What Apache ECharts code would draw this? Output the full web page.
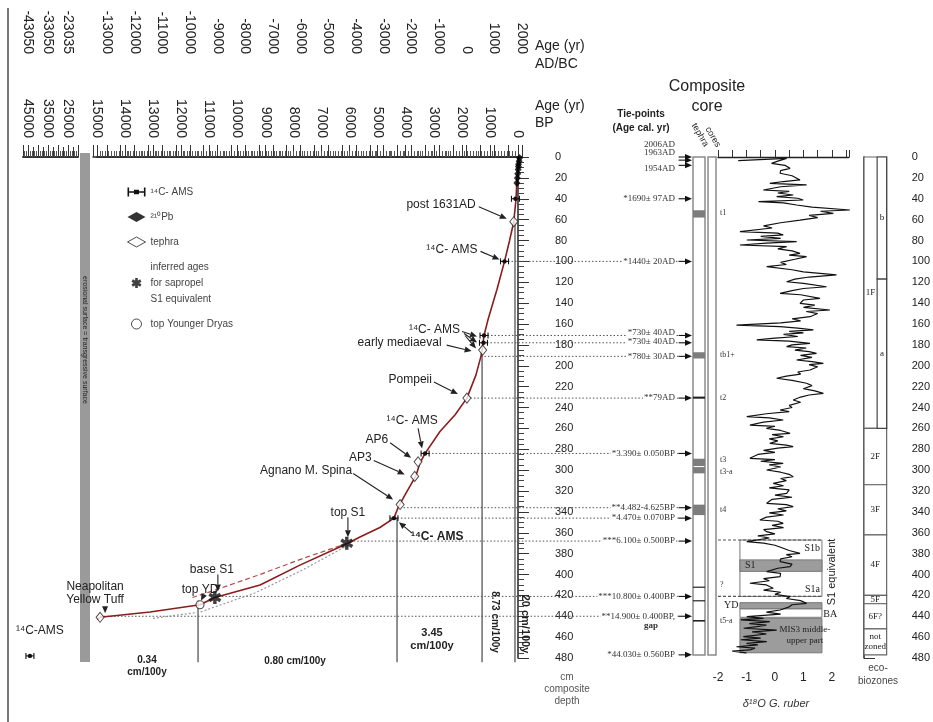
<!DOCTYPE html>
<html><head><meta charset="utf-8">
<script src="https://cdn.jsdelivr.net/npm/echarts@6/dist/echarts.min.js"></script>
<style>html,body{margin:0;padding:0;background:#fff}#c{width:933px;height:722px}</style>
</head><body><div id="c"></div>
<script>
// ================= DATA =================
// age-depth model (age cal yr BP, composite depth cm)
const curveAge   = [0, 10, 36, 70, 150, 300, 480, 750, 1070, 1210, 1280, 1320, 1500, 1820, 2240, 2780, 3310, 3490, 3630, 4030, 4275, 4420, 4920, 5630, 6060, 7770, 9190, 10800, 11330, 13110, 14890, 15000];
const curveDepth = [0, 10, 20, 40, 62, 80, 100, 127, 156, 171, 185, 191, 209, 231, 247, 263, 284, 293, 305, 324, 336, 346, 355, 364, 370, 391, 410, 422, 429, 436, 441, 443];
const altDashAge = [6060, 7600, 9300, 10800, 11600];
const altDashDepth = [370, 384, 401, 415, 422];
const altDotAge = [6060, 7700, 9400, 11330, 13000];
const altDotDepth = [372, 396, 418, 436, 442];
// dating points
const pbAge = [-56, -40, -20, -13, -4, 10, 25, 40];
const pbDepth = [1, 4, 7, 9, 12, 16, 20, 25];
const tephraAge = [150, 1260, 1820, 3560, 3680, 4200, 14890];
const tephraDepth = [62, 185, 231, 292, 306, 333, 441];
const c14Age = [90, 480, 1210, 1230, 3310, 4420];
const c14Depth = [40, 100, 171, 178, 284, 346];
const c14Err = [97, 20, 40, 40, 50, 70];
const c14DeepAge = [44030];
const c14DeepDepth = [478];
const c14DeepErr = [560];
const s1Age = [6100, 10800];
const s1Depth = [370, 422];
const ydAge = [11330];
const ydDepth = [429];
// sedimentation-rate boundaries (age, depth of start)
const rateAge = [107, 1280, 4310, 11400];
const rateDepth = [62, 190, 346, 425];
// annotations on the age-depth curve
const annText = ['post 1631AD', '¹⁴C- AMS', '¹⁴C- AMS', 'early mediaeval', 'Pompeii', '¹⁴C- AMS', 'AP6', 'AP3', 'Agnano M. Spina', 'top S1', '¹⁴C- AMS', 'base S1', 'top YD', 'Neapolitan\nYellow Tuff'];
const annAge = [150, 480, 1210, 1260, 1820, 3310, 3560, 3680, 4200, 6060, 4420, 10800, 11330, 14890];
const annDepth = [62, 100, 171, 185, 231, 284, 292, 306, 333, 370, 346, 422, 429, 441];
// tie-points
const tieText = ['2006AD', '1963AD', '1954AD', '*1690± 97AD', '*1440± 20AD', '*730± 40AD', '*730± 40AD', '*780± 30AD', '**79AD', '*3.390± 0.050BP', '**4.482-4.625BP', '*4.470± 0.070BP', '***6.100± 0.500BP', '***10.800± 0.400BP', '**14.900± 0.400BP,', '*44.030± 0.560BP'];
const tieDepth = [0, 3, 8, 40, 100, 171, 178, 191, 231, 284, 336, 346, 368, 421, 440, 477];
const tieLineFrom = [null, null, null, null, 480, 1210, 1230, 1320, 1820, 3310, 4200, 4420, 6100, 10800, 14890, null];
// tephra layers in composite core
const tephraBandTop = [51, 187, 229.5, 289, 297, 333, 411.5, 424.5, 443.5];
const tephraBandBot = [58, 193, 231.5, 296, 303, 343, 412.5, 425.5, 445];
const tephraName = ['t1', 'tb1+', 't2', 't3', 't3-a', 't4', '?', 't5-a'];
const tephraNameDepth = [54, 190, 231, 290, 302, 338, 410, 444];
// d18O G. ruber profile: [depth cm, d18O permil]
const d18Profile = [
[3.5,-1.29],[1.3,0.41],[4,0.1],[6.1,-0.12],[8,0.35],[10.9,0.53],[13,0.2],[15.6,0.18],[18,0.6],[22,0.88],[23.5,0.3],[25.2,-0.18],[26.8,1.11],[28.5,0.2],[31.6,-0.41],[33,0.5],[34.5,0.1],[36.4,0.64],[38,0.06],[39.5,0.8],[41.2,0.99],[42.8,-0.58],[44,0.3],[46,0.76],[48,1.3],[50.8,2.63],[52,1.6],[54,2.05],[56,1.2],[58,1.5],[60.4,0.88],[63,0.2],[66,-0.4],[68,-0.1],[71.5,-1.23],[73,0.1],[74.7,0.29],[76,-0.5],[78,0.2],[79.5,-0.99],[81,0.76],[82.5,-0.3],[84.3,-1.23],[85.9,0.41],[88,0.1],[90,0.6],[92.3,0.88],[94,0.5],[95.5,1.11],[98,0.7],[101,0.2],[103,0.4],[105.1,-0.29],[108,0.6],[110,1.0],[113,2.16],[115,1.2],[117,0.7],[119.5,0.41],[121,1.0],[124.3,1.81],[126,1.0],[128,0.6],[130.6,0.18],[132,0.9],[135.4,1.58],[137,1.0],[140.2,0.88],[142,1.4],[144,1.0],[146.6,1.93],[148,1.1],[150,1.5],[153,1.23],[155,0.6],[157,0.9],[159,0.2],[161,-1.35],[162.6,0.18],[164,0.8],[165.7,1.35],[167,0.5],[168.5,1.0],[170,0.3],[172,0.8],[173.5,0.0],[175.3,-0.64],[176.5,0.5],[178.5,1.23],[180,0.6],[181.7,0.41],[183,1.1],[185,0.7],[186.5,1.2],[188.1,1.46],[190,0.9],[192,1.3],[194.5,0.76],[196,1.3],[197.7,1.7],[199,1.2],[201,1.5],[204.1,1.23],[206,0.8],[208,0.9],[210,0.4],[212,0.06],[214,0.6],[216.8,1.11],[219,1.3],[222,1.0],[224,1.4],[226.4,1.7],[228,1.2],[230,0.9],[232.8,0.64],[235,0.9],[238,0.5],[240,0.6],[242.4,0.18],[244,0.5],[246,-0.3],[248.8,-0.99],[250,-0.2],[252,0.29],[254,-0.4],[256.8,-0.88],[258,0.0],[260,-0.3],[262,0.2],[264.7,0.53],[266,-0.1],[268,0.3],[270,-0.2],[272,0.1],[274.3,-0.18],[276,0.4],[277.5,0.64],[279,0.1],[281,-0.4],[283,0.0],[285,-0.6],[288.7,-0.88],[290,0.0],[291.5,-0.5],[293.5,0.29],[295,-0.2],[297,0.2],[299.9,-0.29],[302,0.2],[304,0.5],[306.3,0.64],[308,0.2],[310,0.4],[312.7,-0.06],[315,0.3],[317,-0.2],[319,0.5],[322.2,0.41],[324,0.0],[326,0.6],[328,-0.1],[331.8,-0.29],[333,0.4],[335,0.64],[337,0.1],[339,0.4],[341,-0.2],[343,0.3],[345,-0.3],[347.8,-0.53],[349,0.1],[351,0.29],[353,-0.1],[355,0.3],[357,-0.4],[359,-0.29],[361,0.0],[363,-0.6],[365,-0.2],[368.5,-0.99],[370,-0.4],[372,0.0],[374.9,0.29],[377,0.5],[379.7,0.88],[381,0.4],[383,0.6],[385,0.2],[387.7,0.18],[390,0.6],[392.5,0.53],[394,0.1],[397.3,-0.29],[399,0.2],[402.1,0.18],[404,-0.4],[406,-0.2],[408.4,-0.88],[410,-0.3],[413.2,-0.06],[415,-0.4],[417,0.2],[419,0.0],[421.2,0.53],[423,0.4],[425,0.9],[427.6,1.11],[429,0.6],[431,0.5],[434,0.18],[436,-0.3],[438,0.2],[440.4,-0.99],[442,-0.4],[443.5,-1.2],[445.2,-0.18],[447,-0.9],[448.5,-0.3],[450,-0.64],[451.5,-1.1],[453.2,0.06],[455,-0.8],[457,-0.3],[459.6,-1.11],[461,-0.5],[462.5,-1.2],[464.4,-0.29],[466,-1.0],[467.5,-0.6],[469.2,-1.35],[470.5,-0.7],[472.3,-0.88],[473.5,-1.5],[475,-1.0]
];
// boxes in d18O panel (S1 equivalent, YD, BA, MIS3)
const d18BoxTop = [367, 386, 427, 433, 442];
const d18BoxBot = [421, 397, 433, 441, 475];
const d18BoxGray = [false, true, true, false, true];
const d18LabText = ['S1b', 'S1', 'S1a', 'YD', 'BA', 'MIS3 middle-\nupper part'];
const d18LabDepth = [375, 391, 414, 430, 438, 458];
const s1EquivDepth = [367, 421];
// eco-biozones
const ecoName = ['1F', '2F', '3F', '4F', '5F', '6F?', 'not\nzoned'];
const ecoTop = [0, 260, 314, 362, 420, 428, 452];
const ecoBot = [260, 314, 362, 420, 428, 452, 477];
const ecoSubName = ['b', 'a'];
const ecoSubTop = [0, 117];
const ecoSubBot = [117, 260];
// tick labels of the broken (older) age segment
const adBreakTicks = [-43050, -33050, -23050];
const adBreakLabels = ['-43050', '-33050', '-23035'];
const bpBreakLabels = [25000, 35000, 45000];

// ================= STYLE =================
const SANS = 'Liberation Sans, Arial, sans-serif';
const SERIF = 'Liberation Serif, Times New Roman, serif';
const TIE_END = -5750;           // right end of tie dotted lines (in extended age units)
const annStyle = [
  {tx:-38, ty:-17, align:'right', arrows:[[-35,-15,-7,-3]]},
  {tx:-27, ty:-12, align:'right', arrows:[[-24,-10,-5,-2]]},
  {tx:-24, ty:-6, align:'right', arrows:[[-22,-4,-7,1],[-20,-2,-7,7],[-19,0,-8,13]]},
  {tx:-41, ty:-7, align:'right', arrows:[[-36,-5,-11,1]]},
  {tx:-35, ty:-18, align:'right', arrows:[[-33,-16,-9,-4]]},
  {tx:-13, ty:-33, align:'center', arrows:[[-7,-25,-3,-5]]},
  {tx:-30, ty:-22, align:'right', arrows:[[-28,-19,-7,-4]]},
  {tx:-43, ty:-19, align:'right', arrows:[[-41,-16,-10,-2]]},
  {tx:-48, ty:-34, align:'right', arrows:[[-47,-31,-7,-5]]},
  {tx:0, ty:-31, align:'center', arrows:[[0,-26,0,-6]]},
  {tx:17, ty:19, align:'left', bold:true, arrows:[[18,15,5,4]]},
  {tx:-3, ty:-28, align:'center', arrows:[[3,-23,3,-6]]},
  {tx:0, ty:-15, align:'center', arrows:[[4,-10,1,-4]]},
  {tx:-5, ty:-24, align:'center', arrows:[[5,-11,5,-4]]}
];
const tieYOff = [-12, -7, 3, 0, 0, -3, -1, 0, 0, 0, 0, 0, 0, 0, 0, 0];
const d18LabStyle = [
  {x:1.58, align:'right'}, {x:-1.05, align:'left'}, {x:1.58, align:'right'},
  {x:-1.28, align:'right'}, {x:1.7, align:'left'}, {x:1.05, align:'center'}
];

function arrowEls(x1, y1, x2, y2, color) {
  const ang = Math.atan2(y2 - y1, x2 - x1), L = 7, W = 3;
  const bx = x2 - L * Math.cos(ang), by = y2 - L * Math.sin(ang);
  const px = -Math.sin(ang) * W, py = Math.cos(ang) * W;
  return [
    {type:'line', shape:{x1:x1, y1:y1, x2:bx, y2:by}, style:{stroke:color, lineWidth:1.1}},
    {type:'polygon', shape:{points:[[x2, y2], [bx + px, by + py], [bx - px, by - py]]}, style:{fill:color}}
  ];
}
function asteriskPath() {
  let s = '';
  [90, 30, 150].forEach(function (a) {
    const r = a * Math.PI / 180, c = Math.cos(r), sn = Math.sin(r), L = 6, W = 1.6;
    const pts = [[-L, -W], [L, -W], [L, W], [-L, W]].map(function (p) {
      return [(p[0] * c - p[1] * sn).toFixed(2), (p[0] * sn + p[1] * c).toFixed(2)];
    });
    s += 'M' + pts[0].join(',') + 'L' + pts[1].join(',') + 'L' + pts[2].join(',') + 'L' + pts[3].join(',') + 'Z';
  });
  return 'path://' + s;
}
const ASTER = asteriskPath();
const C14ICON = 'path://M0,0h1.6v9h-1.6z M0,3.8h18v1.4h-18z M16.4,0h1.6v9h-1.6z M6.5,2.2h5v4.6h-5z';

function errBarRender(params, api) {
  const a = api.value(0), d = api.value(1), e = api.value(2);
  const c = api.coord([a, d]);
  const l = api.coord([a + e, d]), r = api.coord([a - e, d]);
  const hw = Math.max(Math.abs(r[0] - l[0]) / 2, 4);
  const st = {stroke:'#111', lineWidth:1.1};
  return {type:'group', children:[
    {type:'line', shape:{x1:c[0] - hw, y1:c[1], x2:c[0] + hw, y2:c[1]}, style:st},
    {type:'line', shape:{x1:c[0] - hw, y1:c[1] - 3, x2:c[0] - hw, y2:c[1] + 3}, style:st},
    {type:'line', shape:{x1:c[0] + hw, y1:c[1] - 3, x2:c[0] + hw, y2:c[1] + 3}, style:st},
    {type:'circle', shape:{cx:c[0], cy:c[1], r:2.2}, style:{fill:'#111'}}
  ]};
}

// ================= GRIDS / AXES =================
const H = 501, TOP = 157;
const grids = [
  {left:97, top:TOP, width:608, height:H},          // 0 main (extended age)
  {left:97, top:TOP, width:421, height:H},          // 1 BP axis + depth axis
  {left:93, top:TOP, width:429, height:H},          // 2 AD/BC axis
  {left:23, top:TOP, width:55, height:H},           // 3 broken BP segment
  {left:590, top:TOP, width:103, height:H},         // 4 tie-points
  {left:693, top:TOP, width:12, height:498, show:true, borderColor:'#8a8a8a', borderWidth:1.5, backgroundColor:'#fff'}, // 5 tephra
  {left:708, top:TOP, width:8, height:498, show:true, borderColor:'#8a8a8a', borderWidth:1.5, backgroundColor:'#fff'},  // 6 cores
  {left:718, top:TOP, width:131, height:H},         // 7 d18O
  {left:864, top:TOP, width:26, height:H},          // 8 eco-biozones
  {left:23, top:TOP, width:55, height:H}            // 9 broken AD/BC segment
];
function hiddenX(g, min, max, inv) { return {gridIndex:g, type:'value', min:min, max:max, inverse:!!inv, show:false}; }
const tickCol = '#333';
const xAxes = [
  hiddenX(0, -6663, 15000, true),
  {gridIndex:1, type:'value', position:'top', offset:2, inverse:true, min:0, max:15000, interval:1000,
    axisLine:{show:true, lineStyle:{color:'#222', width:1.5}},
    axisTick:{show:true, length:12, lineStyle:{color:tickCol}},
    minorTick:{show:true, splitNumber:10, length:6, lineStyle:{color:'#555'}},
    axisLabel:{rotate:-90, margin:17, fontSize:14, color:'#222', interval:0, fontFamily:SANS,
      formatter:function (v) { return String(v); }},
    splitLine:{show:false}},
  {gridIndex:2, type:'value', position:'top', offset:83, min:-13500, max:2000, interval:500,
    axisLine:{show:true, lineStyle:{color:'#222', width:1.5}},
    axisTick:{show:true, length:12, lineStyle:{color:tickCol}},
    minorTick:{show:true, splitNumber:2, length:6, lineStyle:{color:'#555'}},
    axisLabel:{rotate:-90, margin:20, fontSize:14, color:'#222', interval:0, fontFamily:SANS,
      formatter:function (v) { return v % 1000 === 0 ? String(v) : ''; }},
    splitLine:{show:false}},
  {gridIndex:3, type:'value', position:'top', offset:2, inverse:true, min:20000, max:47500, interval:5000,
    axisLine:{show:true, lineStyle:{color:'#222', width:1.5}},
    axisTick:{show:true, length:12, lineStyle:{color:tickCol}},
    minorTick:{show:true, splitNumber:5, length:6, lineStyle:{color:'#555'}},
    axisLabel:{rotate:-90, margin:17, fontSize:14, color:'#222', interval:0, fontFamily:SANS,
      formatter:function (v) { return bpBreakLabels.indexOf(Math.round(v)) >= 0 ? String(v) : ''; }},
    splitLine:{show:false}},
  hiddenX(4, 0, 1),
  hiddenX(5, 0, 1),
  hiddenX(6, 0, 1),
  {gridIndex:7, type:'value', position:'bottom', offset:5, min:-2, max:2.6, interval:0.5,
    axisLine:{show:true, lineStyle:{color:'#222', width:1.3}},
    axisTick:{show:true, inside:true, length:7, lineStyle:{color:tickCol}},
    axisLabel:{margin:9, fontSize:12, color:'#222', fontFamily:SANS, interval:0,
      formatter:function (v) { return (Math.abs(v - Math.round(v)) < 1e-6 && v <= 2) ? String(Math.round(v)) : ''; }},
    splitLine:{show:false}},
  hiddenX(8, 0, 1),
  {gridIndex:9, type:'value', position:'top', offset:83, min:-45550, max:-18050, interval:2500,
    axisLine:{show:true, lineStyle:{color:'#222', width:1.5}},
    axisTick:{show:true, length:10, lineStyle:{color:tickCol}},
    axisLabel:{rotate:-90, margin:20, fontSize:14, color:'#222', interval:0, fontFamily:SANS,
      formatter:function (v) { const i = adBreakTicks.indexOf(Math.round(v)); return i >= 0 ? adBreakLabels[i] : ''; }},
    splitLine:{show:false}}
];
function hiddenY(g) { return {gridIndex:g, type:'value', min:0, max:480, inverse:true, show:false}; }
const yAxes = [
  hiddenY(0),
  {gridIndex:1, type:'value', position:'right', offset:19, inverse:true, min:0, max:480, interval:20,
    axisLine:{show:true, lineStyle:{color:'#222', width:1.5}},
    axisTick:{show:true, length:11, lineStyle:{color:tickCol}},
    minorTick:{show:true, splitNumber:4, length:6, lineStyle:{color:'#444'}},
    axisLabel:{margin:18, fontSize:11, color:'#222', fontFamily:SANS},
    splitLine:{show:false}},
  hiddenY(2), hiddenY(3), hiddenY(4),
  {gridIndex:5, type:'value', min:0, max:477, inverse:true, show:false},
  {gridIndex:6, type:'value', min:0, max:477, inverse:true, show:false},
  hiddenY(7),
  {gridIndex:8, type:'value', position:'right', offset:5, inverse:true, min:0, max:480, interval:20,
    axisLine:{show:true, lineStyle:{color:'#222', width:1.5}},
    axisTick:{show:true, length:11, lineStyle:{color:tickCol}},
    minorTick:{show:true, splitNumber:4, length:6, lineStyle:{color:'#444'}},
    axisLabel:{margin:20, fontSize:11, color:'#222', fontFamily:SANS},
    splitLine:{show:false}},
  hiddenY(9)
];

// ================= SERIES =================
const zip = function (a, b) { return a.map(function (v, i) { return [v, b[i]]; }); };
const series = [];
series.push({name:'age-depth', type:'line', xAxisIndex:0, yAxisIndex:0, data:zip(curveAge, curveDepth),
  symbol:'none', lineStyle:{color:'#8b1c1c', width:1.6}, z:4, silent:true});
series.push({name:'alt1', type:'line', xAxisIndex:0, yAxisIndex:0, data:zip(altDashAge, altDashDepth),
  symbol:'none', lineStyle:{color:'#b04a4a', width:1.2, type:[5, 3]}, z:3, silent:true});
series.push({name:'alt2', type:'line', xAxisIndex:0, yAxisIndex:0, data:zip(altDotAge, altDotDepth),
  symbol:'none', lineStyle:{color:'#999', width:1.2, type:[2, 2]}, z:3, silent:true});
series.push({name:'rate', type:'custom', xAxisIndex:0, yAxisIndex:0, z:2, silent:true,
  data:zip(rateAge, rateDepth),
  renderItem:function (p, api) {
    const a = api.coord([api.value(0), api.value(1)]);
    const b = api.coord([api.value(0), 484]);
    return {type:'line', shape:{x1:a[0], y1:a[1], x2:b[0], y2:b[1]}, style:{stroke:'#555', lineWidth:1.3}};
  }});
series.push({name:'tielines', type:'custom', xAxisIndex:0, yAxisIndex:0, z:1, silent:true,
  data:tieLineFrom.map(function (a, i) { return a === null ? null : [a, tieDepth[i]]; }).filter(function (x) { return x; }),
  renderItem:function (p, api) {
    const a = api.coord([api.value(0), api.value(1)]);
    const b = api.coord([TIE_END, api.value(1)]);
    return {type:'line', shape:{x1:a[0], y1:a[1], x2:b[0], y2:b[1]}, style:{stroke:'#555', lineWidth:1, lineDash:[1.5, 2]}};
  }});
series.push({name:'²¹⁰Pb', type:'scatter', xAxisIndex:0, yAxisIndex:0, data:zip(pbAge, pbDepth),
  symbol:'diamond', symbolSize:[7, 8], itemStyle:{color:'#000'}, z:6});
series.push({name:'tephra', type:'scatter', xAxisIndex:0, yAxisIndex:0, data:zip(tephraAge, tephraDepth),
  symbol:'diamond', symbolSize:[8, 10], itemStyle:{color:'#fff', borderColor:'#222', borderWidth:1}, z:6});
series.push({name:'¹⁴C- AMS', type:'custom', xAxisIndex:0, yAxisIndex:0, z:7,
  itemStyle:{color:'#111'},
  data:c14Age.map(function (a, i) { return [a, c14Depth[i], c14Err[i]]; }), renderItem:errBarRender});
series.push({name:'¹⁴C- AMS', type:'custom', xAxisIndex:3, yAxisIndex:3, z:7,
  itemStyle:{color:'#111'},
  data:c14DeepAge.map(function (a, i) { return [a, c14DeepDepth[i], c14DeepErr[i]]; }), renderItem:errBarRender});
series.push({name:'inferred ages\nfor sapropel\nS1 equivalent', type:'scatter', xAxisIndex:0, yAxisIndex:0,
  data:zip(s1Age, s1Depth), symbol:ASTER, symbolSize:13, itemStyle:{color:'#111'}, z:7});
series.push({name:'top Younger Dryas', type:'scatter', xAxisIndex:0, yAxisIndex:0,
  data:zip(ydAge, ydDepth), symbol:'circle', symbolSize:8, itemStyle:{color:'#fff', borderColor:'#222', borderWidth:1.1}, z:7});
series.push({name:'annotations', type:'custom', xAxisIndex:0, yAxisIndex:0, z:8, silent:true,
  data:annAge.map(function (a, i) { return [a, annDepth[i], i]; }),
  renderItem:function (p, api) {
    const i = api.value(2), s = annStyle[i];
    const c = api.coord([api.value(0), api.value(1)]);
    const ch = [{type:'text', x:c[0] + s.tx, y:c[1] + s.ty,
      style:{text:annText[i], fill:'#222', font:(s.bold ? 'bold ' : '') + '12px ' + SANS, align:s.align, verticalAlign:'middle', lineHeight:13}}];
    s.arrows.forEach(function (ar) { arrowEls(c[0] + ar[0], c[1] + ar[1], c[0] + ar[2], c[1] + ar[3], '#222').forEach(function (e) { ch.push(e); }); });
    return {type:'group', children:ch};
  }});
series.push({name:'annDeep', type:'custom', xAxisIndex:3, yAxisIndex:3, z:8, silent:true,
  data:zip(c14DeepAge, c14DeepDepth),
  renderItem:function (p, api) {
    const c = api.coord([api.value(0), api.value(1)]);
    return {type:'text', x:c[0] + 10, y:c[1] - 25, style:{text:'¹⁴C-AMS', fill:'#222', font:'12px ' + SANS, align:'center', verticalAlign:'middle'}};
  }});
series.push({name:'ties', type:'custom', xAxisIndex:4, yAxisIndex:4, z:9, silent:true,
  data:tieDepth.map(function (d, i) { return [1, d, i]; }),
  renderItem:function (p, api) {
    const i = api.value(2), d = api.value(1);
    const t = api.coord([0.835, d]);
    const a0 = api.coord([0.86, d]), a1 = api.coord([1.0, d]);
    const ch = [{type:'text', x:t[0], y:t[1] + tieYOff[i],
      style:{text:tieText[i], fill:'#333', font:'9px ' + SERIF, align:'right', verticalAlign:'middle', backgroundColor:'#fff', padding:[0, 1]}}];
    arrowEls(a0[0], a0[1], a1[0] - 1, a1[1], '#111').forEach(function (e) { ch.push(e); });
    if (i === 14) {
      ch.push({type:'text', x:t[0] - 25, y:t[1] + 9, style:{text:'gap', fill:'#333', font:'bold 9px ' + SERIF, align:'center', verticalAlign:'middle', backgroundColor:'#fff'}});
    }
    return {type:'group', children:ch};
  }});
series.push({name:'tephraBands', type:'custom', xAxisIndex:5, yAxisIndex:5, z:3, silent:true,
  data:tephraBandTop.map(function (t, i) { return [t, tephraBandBot[i]]; }),
  renderItem:function (p, api) {
    const a = api.coord([0, api.value(0)]), b = api.coord([1, api.value(1)]);
    const thin = (b[1] - a[1]) < 3;
    return {type:'rect', shape:{x:a[0], y:a[1], width:b[0] - a[0], height:Math.max(b[1] - a[1], 1.2)},
      style:{fill:thin ? '#222' : '#7d7d7d'}};
  }});
series.push({name:'tephraNames', type:'custom', xAxisIndex:6, yAxisIndex:6, z:3, silent:true,
  data:tephraNameDepth.map(function (d, i) { return [1, d, i]; }),
  renderItem:function (p, api) {
    const c = api.coord([1, api.value(1)]);
    return {type:'text', x:c[0] + 4, y:c[1], style:{text:tephraName[api.value(2)], fill:'#333', font:'8px ' + SERIF, align:'left', verticalAlign:'middle'}};
  }});
series.push({name:'d18Boxes', type:'custom', xAxisIndex:7, yAxisIndex:7, z:1, silent:true,
  data:d18BoxTop.map(function (t, i) { return [t, d18BoxBot[i], i]; }),
  renderItem:function (p, api) {
    const i = api.value(2);
    const a = api.coord([-1.23, api.value(0)]), b = api.coord([1.65, api.value(1)]);
    return {type:'rect', shape:{x:a[0], y:a[1], width:b[0] - a[0], height:b[1] - a[1]},
      style:{fill:d18BoxGray[i] ? '#9c9c9c' : '#fff', stroke:'#777', lineWidth:1}};
  }});
series.push({name:'s1lines', type:'custom', xAxisIndex:7, yAxisIndex:7, z:2, silent:true,
  data:s1EquivDepth.map(function (d) { return [0, d]; }),
  renderItem:function (p, api) {
    const a = api.coord([-2, api.value(1)]), b = api.coord([1.65, api.value(1)]);
    return {type:'line', shape:{x1:a[0], y1:a[1], x2:b[0], y2:b[1]}, style:{stroke:'#555', lineWidth:1.1, lineDash:[3, 2]}};
  }});
series.push({name:'δ18O', type:'line', xAxisIndex:7, yAxisIndex:7,
  data:d18Profile.map(function (p) { return [p[1], p[0]]; }),
  symbol:'none', lineStyle:{color:'#111', width:1.2}, z:4, clip:false, silent:true});
series.push({name:'d18Labels', type:'custom', xAxisIndex:7, yAxisIndex:7, z:5, silent:true,
  data:d18LabDepth.map(function (d, i) { return [d18LabStyle[i].x, d, i]; }),
  renderItem:function (p, api) {
    const i = api.value(2), c = api.coord([api.value(0), api.value(1)]);
    return {type:'text', x:c[0], y:c[1], style:{text:d18LabText[i], fill:'#222', font:(i === 5 ? '9px ' : '10px ') + SERIF, align:d18LabStyle[i].align, verticalAlign:'middle', lineHeight:11}};
  }});
series.push({name:'eco', type:'custom', xAxisIndex:8, yAxisIndex:8, z:2, silent:true,
  data:ecoName.map(function (n, i) { return [ecoTop[i], ecoBot[i], i]; }),
  renderItem:function (p, api) {
    const i = api.value(2);
    const a = api.coord([0, api.value(0)]), b = api.coord([1, api.value(1)]);
    const xr = i === 0 ? a[0] + (b[0] - a[0]) * 0.58 : b[0];
    return {type:'group', children:[
      {type:'rect', shape:{x:a[0], y:a[1], width:b[0] - a[0], height:b[1] - a[1]}, style:{fill:'#fff', stroke:'#666', lineWidth:1.2}},
      {type:'text', x:(a[0] + xr) / 2, y:(a[1] + b[1]) / 2, style:{text:ecoName[i], fill:'#222', font:'9px ' + SERIF, align:'center', verticalAlign:'middle', lineHeight:10}}
    ]};
  }});
series.push({name:'ecoSub', type:'custom', xAxisIndex:8, yAxisIndex:8, z:3, silent:true,
  data:ecoSubName.map(function (n, i) { return [ecoSubTop[i], ecoSubBot[i], i]; }),
  renderItem:function (p, api) {
    const i = api.value(2);
    const a = api.coord([0.58, api.value(0)]), b = api.coord([1, api.value(1)]);
    return {type:'group', children:[
      {type:'rect', shape:{x:a[0], y:a[1], width:b[0] - a[0], height:b[1] - a[1]}, style:{fill:'#fff', stroke:'#444', lineWidth:1.2}},
      {type:'text', x:(a[0] + b[0]) / 2, y:(a[1] + b[1]) / 2, style:{text:ecoSubName[i], fill:'#222', font:'9px ' + SERIF, align:'center', verticalAlign:'middle'}}
    ]};
  }});

// ================= GRAPHIC (frame, headers, static notes) =================
function txt(x, y, s, o) {
  o = o || {};
  return {type:'text', x:x, y:y, rotation:o.rot || 0, z:20,
    style:{text:s, fill:o.fill || '#222', font:(o.w || '') + ' ' + (o.size || 12) + 'px ' + (o.fam || SANS),
      align:o.align || 'left', verticalAlign:o.va || 'middle', lineHeight:o.lh || undefined}};
}
const graphic = [
  {type:'line', shape:{x1:8, y1:8, x2:8, y2:722}, style:{stroke:'#777', lineWidth:2}, z:1},
  {type:'rect', shape:{x:80, y:153, width:10, height:509}, style:{fill:'#9a9a9a'}, z:1},
  txt(85, 340, 'erosional surface = transgressive surface', {rot:-Math.PI / 2, align:'center', size:7, fill:'#222'}),
  txt(535, 46, 'Age (yr)', {size:14}),
  txt(535, 64, 'AD/BC', {size:14}),
  txt(535, 106, 'Age (yr)', {size:14}),
  txt(535, 123, 'BP', {size:14}),
  txt(707, 87, 'Composite', {size:16, align:'center'}),
  txt(707, 107, 'core', {size:16, align:'center'}),
  txt(641, 114, 'Tie-points', {size:10, align:'center', w:'bold'}),
  txt(641, 128, '(Age cal. yr)', {size:10, align:'center', w:'bold'}),
  txt(700, 135, 'tephra', {size:9, align:'center', rot:-Math.PI / 3}),
  txt(713, 137, 'cores', {size:9, align:'center', rot:-Math.PI / 3}),
  txt(147, 660, '0.34', {size:10, align:'center', w:'bold'}),
  txt(147, 672, 'cm/100y', {size:10, align:'center', w:'bold'}),
  txt(295, 661, '0.80 cm/100y', {size:10, align:'center', w:'bold'}),
  txt(432, 633, '3.45', {size:11, align:'center', w:'bold'}),
  txt(432, 646, 'cm/100y', {size:11, align:'center', w:'bold'}),
  txt(495, 622, '8.73 cm/100y', {size:10, align:'center', w:'bold', rot:-Math.PI / 2}),
  txt(525, 624, '20 cm/100y', {size:11, align:'center', w:'bold', rot:-Math.PI / 2}),
  txt(567, 677, 'cm', {size:10, align:'center', fill:'#555'}),
  txt(567, 689, 'composite', {size:10, align:'center', fill:'#555'}),
  txt(567, 701, 'depth', {size:10, align:'center', fill:'#555'}),
  txt(878, 668, 'eco-', {size:10, align:'center', fill:'#444'}),
  txt(878, 681, 'biozones', {size:10, align:'center', fill:'#444'}),
  txt(776, 704, 'δ¹⁸O G. ruber', {size:11, align:'center', fill:'#333', w:'italic'}),
  txt(832, 572, 'S1 equivalent', {size:11, align:'center', rot:Math.PI / 2})
];

const option = {
  animation:false,
  backgroundColor:'#fff',
  textStyle:{fontFamily:SANS},
  grid:grids,
  xAxis:xAxes,
  yAxis:yAxes,
  legend:{
    show:true, orient:'vertical', left:122, top:179, itemWidth:18, itemHeight:10, itemGap:9,
    selectedMode:false,
    textStyle:{fontSize:10, color:'#444', lineHeight:16, fontFamily:SANS},
    data:[
      {name:'¹⁴C- AMS', icon:C14ICON},
      {name:'²¹⁰Pb', icon:'diamond', itemStyle:{color:'#000'}},
      {name:'tephra', icon:'diamond', itemStyle:{color:'#fff', borderColor:'#222', borderWidth:1}},
      {name:'inferred ages\nfor sapropel\nS1 equivalent', icon:ASTER},
      {name:'top Younger Dryas', icon:'circle', itemStyle:{color:'#fff', borderColor:'#222', borderWidth:1}}
    ]
  },
  series:series,
  graphic:graphic
};
const chart = echarts.init(document.getElementById('c'), null, {renderer:'canvas'});
chart.setOption(option);
</script>
</body></html>
